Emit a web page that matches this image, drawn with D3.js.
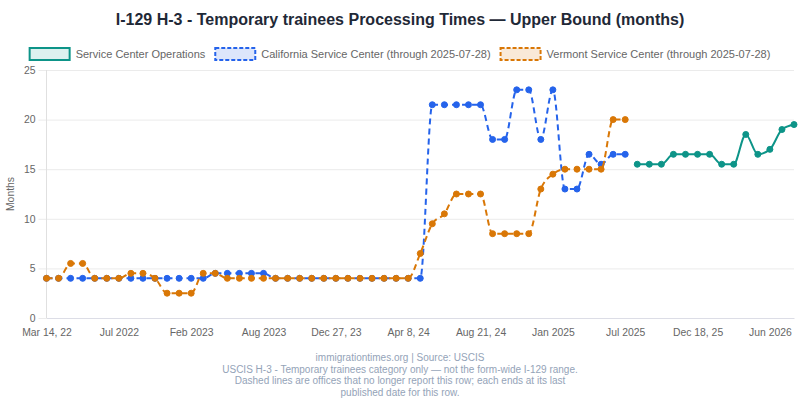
<!DOCTYPE html>
<html>
<head>
<meta charset="utf-8">
<script src="https://cdn.jsdelivr.net/npm/d3@7/dist/d3.min.js"></script>
<style>
  html, body { margin: 0; padding: 0; background: #fff; }
  svg { display: block; font-family: "Liberation Sans", Arial, Helvetica, sans-serif; }
</style>
</head>
<body>
<svg id="chart" width="800" height="400"></svg>
<script>
const categories = [
  "Mar 14, 22","Apr 2022","Apr 29, 22","May 2022","May 31, 22","Jun 2022","Jul 2022","Aug 2022","Sep 2022","Oct 2022",
  "Nov 2022","Dec 2022","Feb 2023","Mar 2023","Apr 2023","May 2023","Jun 2023","Jul 2023","Aug 2023","Sep 2023",
  "Oct 2023","Oct 30, 23","Nov 2023","Dec 2023","Dec 27, 23","Jan 2024","Feb 2024","Feb 28, 24","Mar 2024","Mar 29, 24",
  "Apr 8, 24","May 2024","May 30, 24","Jun 2024","Jun 28, 24","Jul 2024","Aug 21, 24","Sep 2024","Sep 27, 24","Oct 2024",
  "Nov 2024","Dec 2024","Jan 2025","Feb 2025","Mar 2025","Apr 2025","May 2025","Jun 2025","Jul 2025","Aug 2025",
  "Sep 2025","Oct 2025","Nov 2025","Nov 28, 25","Dec 18, 25","Jan 2026","Feb 2026","Mar 2026","Apr 2026","May 2026",
  "Jun 2026","Jul 2026","Aug 2026"
];

// Service Center Operations (indices 49..62)
const operationsValues = [15.5,15.5,15.5,16.5,16.5,16.5,16.5,15.5,15.5,18.5,16.5,17,19,19.5];
const operationsStart = 49;

// California Service Center (indices 0..48)
const californiaValues = [
  4,4,4,4,4,4,4,4,4,4,4,4,4,4,
  4.5,4.5,4.5,4.5,4.5,
  4,4,4,4,4,4,4,4,4,4,4,4,4,
  21.5,21.5,21.5,21.5,21.5,
  18,18,23,23,18,23,13,13,16.5,15.5,16.5,16.5
];

// Vermont Service Center (indices 0..48)
const vermontValues = [
  4,4,5.5,5.5,4,4,4,4.5,4.5,4,2.5,2.5,2.5,4.5,4.5,
  4,4,4,4,4,4,4,4,4,4,4,4,4,4,4,4,
  6.5,9.5,10.5,12.5,12.5,12.5,8.5,8.5,8.5,8.5,13,14.5,15,15,15,15,20,20
];

const yTicks = [0,5,10,15,20,25];
const xTickLabels = ["Mar 14, 22","Jul 2022","Feb 2023","Aug 2023","Dec 27, 23","Apr 8, 24","Aug 21, 24","Jan 2025","Jul 2025","Dec 18, 25","Jun 2026"];

const titleText = "I-129 H-3 - Temporary trainees Processing Times \u2014 Upper Bound (months)";
const footerLines = [
  "immigrationtimes.org | Source: USCIS",
  "USCIS H-3 - Temporary trainees category only \u2014 not the form-wide I-129 range.",
  "Dashed lines are offices that no longer report this row; each ends at its last",
  "published date for this row."
];

const seriesDefs = [
  { name: "Service Center Operations", color: "#0d9488", fill: "#ddf1ef", dashed: false,
    data: operationsValues.map((v, i) => ({ c: categories[operationsStart + i], v })) },
  { name: "California Service Center (through 2025-07-28)", color: "#2563eb", fill: "#dde6fb", dashed: true,
    data: californiaValues.map((v, i) => ({ c: categories[i], v })) },
  { name: "Vermont Service Center (through 2025-07-28)", color: "#d97706", fill: "#f9e9d8", dashed: true,
    data: vermontValues.map((v, i) => ({ c: categories[i], v })) }
];

const svg = d3.select("#chart");
const margin = { left: 46.5, right: 6, top: 70, bottom: 82 };
const W = 800, H = 400;

const x = d3.scalePoint().domain(categories).range([margin.left, W - margin.right]).padding(0);
const y = d3.scaleLinear().domain([0, 25]).range([H - margin.bottom, margin.top]);

// Title
svg.append("text").attr("x", 400).attr("y", 25).attr("text-anchor", "middle")
  .attr("font-size", 16).attr("font-weight", "bold").attr("fill", "#1f2937").text(titleText);

// Gridlines
const yAxis = d3.axisLeft(y).tickValues(yTicks).tickSize(-(W - margin.right - margin.left)).tickPadding(11);
const gy = svg.append("g").attr("transform", `translate(${margin.left},0)`).call(yAxis);
gy.select(".domain").remove();
gy.selectAll(".tick line").attr("stroke", "#ebebeb").attr("x1", -8);
gy.selectAll(".tick text").attr("fill", "#666").attr("font-size", 10.4).attr("font-family", "Liberation Sans, Arial, sans-serif");
// y axis line
svg.append("line").attr("x1", margin.left).attr("x2", margin.left).attr("y1", margin.top).attr("y2", y(0))
  .attr("stroke", "#e0e0e0");

// x axis
const xAxis = d3.axisBottom(x).tickValues(xTickLabels).tickSize(0).tickPadding(11);
const gx = svg.append("g").attr("transform", `translate(0,${y(0)})`).call(xAxis);
gx.select(".domain").attr("stroke", "#dcdde6");
gx.selectAll(".tick text").attr("fill", "#666").attr("font-size", 10.4).attr("font-family", "Liberation Sans, Arial, sans-serif");

// Y title
svg.append("text").attr("transform", `translate(14,${(margin.top + y(0)) / 2}) rotate(-90)`)
  .attr("text-anchor", "middle").attr("font-size", 10.4).attr("fill", "#666").text("Months");

// Lines
const line = d3.line().x(d => x(d.c)).y(d => y(d.v)).curve(d3.curveMonotoneX);
const order = [1, 2, 0];
order.forEach(k => {
  const s = seriesDefs[k];
  svg.append("path").datum(s.data).attr("d", line)
    .attr("fill", "none").attr("stroke", s.color).attr("stroke-width", 2)
    .attr("stroke-dasharray", s.dashed ? "6,4" : null);
  svg.append("g").selectAll("circle").data(s.data).join("circle")
    .attr("cx", d => x(d.c)).attr("cy", d => y(d.v)).attr("r", 3)
    .attr("fill", s.color).attr("stroke", s.color).attr("stroke-width", 1);
});

// Legend
const legend = svg.append("g");
const items = [];
let cursor = 0;
seriesDefs.forEach(s => {
  const g = legend.append("g");
  g.append("rect").attr("x", 0).attr("y", -6).attr("width", 40).attr("height", 12)
    .attr("fill", s.fill).attr("stroke", s.color).attr("stroke-width", 2)
    .attr("stroke-dasharray", s.dashed ? "4,2" : null);
  const t = g.append("text").attr("x", 46).attr("y", 4).attr("font-size", 11).attr("fill", "#666").text(s.name);
  const w = 46 + t.node().getComputedTextLength();
  items.push({ g, w });
});
const totalW = d3.sum(items, d => d.w) + 10 * (items.length - 1);
cursor = (W - totalW) / 2;
items.forEach(it => { it.g.attr("transform", `translate(${cursor},54)`); cursor += it.w + 10; });

// Footer
footerLines.forEach((t, i) => {
  svg.append("text").attr("x", 400).attr("y", 361 + i * 11.6).attr("text-anchor", "middle")
    .attr("font-size", 10).attr("fill", "#94a3b8").text(t);
});
</script>
</body>
</html>
